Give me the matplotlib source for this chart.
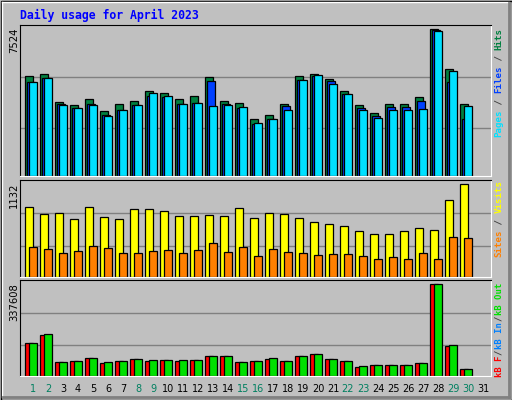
import numpy as np
import matplotlib
matplotlib.use("Agg")
import matplotlib.pyplot as plt
from matplotlib.patches import Rectangle

# ── data ──────────────────────────────────────
days  = np.arange(1, 31)
hits  = [5149, 5252, 3816, 3645, 3953, 3354, 3713, 3867, 4380, 4278, 3970, 4124, 5097, 3867,
         3764, 2943, 3149, 3713, 5149, 5252, 4995, 4380, 3645, 3252, 3713, 3713, 4072, 7524, 5508, 3713]
files = [4824, 5046, 3713, 3508, 3713, 3149, 3405, 3662, 4124, 4090, 3713, 3764, 4892, 3713,
         3508, 2686, 2943, 3610, 4944, 5149, 4892, 4227, 3508, 3097, 3559, 3559, 3867, 7472, 4858, 2943]
pages = [4824, 5046, 3645, 3508, 3662, 3097, 3405, 3662, 4278, 4124, 3713, 3764, 3610, 3662,
         3559, 2737, 2943, 3405, 4944, 5200, 4738, 4227, 3405, 2994, 3405, 3405, 3456, 7421, 5405, 3610]
visits = [850, 764, 775, 701, 850, 726, 701, 824, 824, 800, 738, 738, 750, 738,
          837, 713, 775, 764, 713, 664, 640, 615, 554, 517, 517, 554, 591, 566, 935, 1132]
sites  = [357, 332, 283, 308, 369, 345, 283, 283, 308, 320, 283, 320, 406, 295,
          357, 246, 332, 295, 283, 258, 271, 271, 246, 209, 234, 209, 283, 209, 480, 468]
kb_out = [119449, 152713, 52971, 56668, 67755, 52971, 56668, 64059, 60363, 60363, 60363, 60363,
          75147, 75147, 52971, 56668, 67755, 56668, 75147, 82538, 64059, 56668, 38187, 41883,
          41883, 41883, 49275, 337608, 115753, 27099]
kb_f   = [119449, 149016, 52971, 56668, 67755, 49275, 56668, 64059, 56668, 60363, 56668, 60363,
          75147, 75147, 52971, 56668, 64059, 56668, 75147, 82538, 64059, 56668, 34491, 41883,
          41883, 41883, 49275, 337608, 112057, 27099]
weekends = [1, 2, 8, 9, 15, 16, 22, 23, 29, 30]
title = "Daily usage for April 2023"

BG = "#c0c0c0"
W, H = 512, 400
fig = plt.figure(figsize=(5.12, 4.0), dpi=100, facecolor=BG)

def px_axes(x0, y0, x1, y1):
    return fig.add_axes([x0 / W, 1 - y1 / H, (x1 - x0) / W, (y1 - y0) / H])

def style(ax, top):
    ax.set_facecolor(BG)
    ax.set_xlim(0.133, 31.53)
    ax.set_ylim(0, top)
    ax.set_xticks([]); ax.set_yticks([])
    for s in ("left", "top"):
        ax.spines[s].set_color("black")
    for s in ("right", "bottom"):
        ax.spines[s].set_color("white")
    for f in (0.32, 0.655):
        ax.axhline(top * f, color="#808080", lw=1, zorder=0)

def bars(ax, vals, off, color):
    ax.bar(days + off, vals, width=0.5, align="edge", color=color,
           edgecolor="black", linewidth=0.9, zorder=2)

# ── top: hits / files / pages ─────────────────
ax1 = px_axes(20, 24.7, 491, 176.5)
style(ax1, max(hits) * 1.032)
bars(ax1, hits, -0.51, "#008040")
bars(ax1, files, -0.38, "#0040ff")
bars(ax1, pages, -0.25, "#00e0ff")

# ── middle: visits / sites ────────────────────
ax2 = px_axes(20, 180, 491, 276.5)
style(ax2, max(visits) * 1.047)
bars(ax2, visits, -0.51, "#ffff00")
bars(ax2, sites, -0.25, "#ff8000")

# ── bottom: kB ────────────────────────────────
ax3 = px_axes(20, 280, 491, 376)
style(ax3, max(kb_out) * 1.045)
bars(ax3, kb_f, -0.51, "#ff0000")
bars(ax3, kb_out, -0.25, "#00e000")

# ── texts ─────────────────────────────────────
mono = "DejaVu Sans Mono"
fig.text(20 / W, 1 - 15 / H, title, color="#0000ff", fontsize=8.3, family=mono,
         fontweight="bold", va="center", ha="left")

for ax, val in ((ax1, max(hits)), (ax2, max(visits)), (ax3, max(kb_out))):
    pos = ax.get_position()
    fig.text(14 / W, pos.y1 - 3 / H, str(val), rotation=90, fontsize=7.2,
             family="DejaVu Sans", ha="center", va="top")

def side_label(parts, y_bottom, cw=5.45, size=6.6):
    y = y_bottom
    for txt, col in parts:
        fig.text(499 / W, 1 - y / H, txt, rotation=90, color=col, fontsize=size,
                 family=mono, ha="center", va="bottom", fontweight="bold")
        y -= cw * len(txt)

side_label([("Pages", "#00e0ff"), (" / ", "#404040"), ("Files", "#0040ff"),
            (" / ", "#404040"), ("Hits", "#008040")], 137)
side_label([("Sites", "#ff8000"), (" / ", "#404040"), ("Visits", "#ffff00")], 257)
side_label([("kB F", "#ff0000"), ("/", "#404040"), ("kB In", "#0080ff"),
            ("/", "#404040"), ("kB Out", "#00e000")], 377, cw=5.6, size=6.4)

for d in range(1, 32):
    x = 33 + 15 * (d - 1)
    fig.text(x / W, 1 - 389 / H, str(d), fontsize=7, family="DejaVu Sans",
             color="#008060" if d in weekends else "black", ha="center", va="center")

# ── bevelled frame ────────────────────────────
frame = fig.add_axes([0, 0, 1, 1], facecolor="none")
frame.set_xlim(0, W); frame.set_ylim(H, 0); frame.axis("off")
frame.add_patch(Rectangle((0.5, 0.5), W - 1, H - 1, fill=False, ec="black", lw=1))
frame.plot([2, W - 3], [2, 2], color="white", lw=1)
frame.plot([2, 2], [2, H - 3], color="white", lw=1)
frame.plot([3, W - 3], [H - 3, H - 3], color="#808080", lw=2)
frame.plot([W - 3, W - 3], [3, H - 3], color="#808080", lw=2)

fig.savefig("out.png", dpi=100, facecolor=BG)
